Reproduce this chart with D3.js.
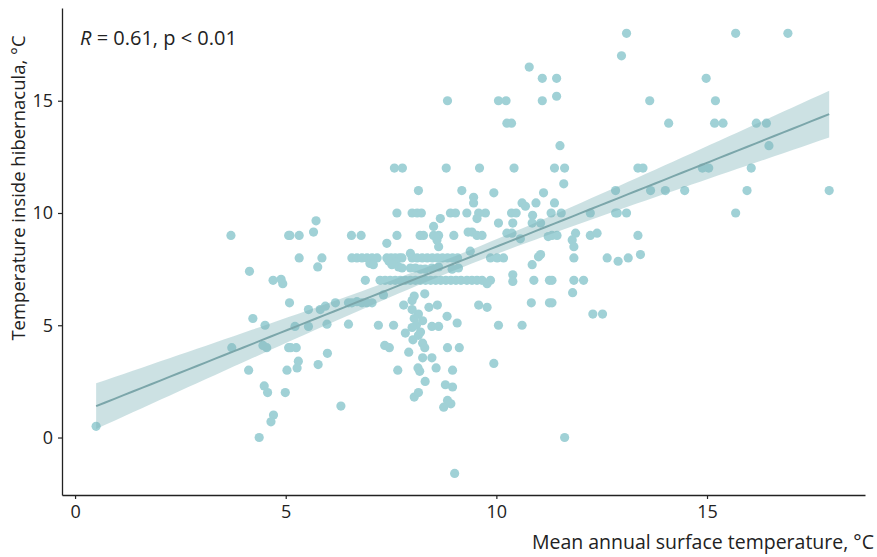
<!DOCTYPE html>
<html>
<head>
<meta charset="utf-8">
<script src="https://cdn.jsdelivr.net/npm/d3@7"></script>
<style>
  body { margin: 0; background: #fff; }
  svg text { font-family: "Open Sans", sans-serif; fill: #222; }
</style>
</head>
<body>
<div id="chart"></div>
<script>
// Tick values
var xTicks = [0, 5, 10, 15];
var yTicks = [0, 5, 10, 15];
var xTitle = "Mean annual surface temperature, \u00B0C";
var yTitle = "Temperature inside hibernacula, \u00B0C";

// [mean annual surface temperature, temperature inside hibernaculum]
var sites = [
  [0.5,0.5],
  [3.72,4.0],[4.46,4.1],[4.55,4.0],[5.07,4.0],[4.12,3.0],[5.03,3.0],
  [4.49,2.3],[4.57,2.0],[4.99,2.0],[4.71,1.0],[4.65,0.7],[4.37,0],
  [3.70,9.0],[5.07,9.0],[4.14,7.4],[4.70,7.0],[4.89,7.05],[4.93,6.85],
  [5.09,6.0],[4.22,5.3],[4.51,5.0],
  [5.12,4.0],[5.25,4.0],[5.99,3.75],[5.3,3.4],[5.27,3.1],[5.77,3.25],[6.31,1.4],
  [7.35,4.1],[7.46,4.0],[8.02,4.35],[8.25,4.2],[8.3,4.0],[8.84,4.0],[9.12,4.0],
  [7.92,3.8],[8.25,3.55],[8.47,3.55],[7.66,3.0],[8.14,3.1],[8.18,2.95],[8.57,3.1],
  [8.96,3.0],[8.31,2.5],[8.79,2.35],[8.96,2.25],[8.05,1.8],[8.15,2.0],
  [8.84,1.65],[8.75,1.35],[8.92,1.5],[9.01,-1.6],
  [9.94,3.3],[11.62,0],
  [8.84,15],[7.58,12],[7.77,12],[8.81,12],[9.6,12],
  [13.09,18],[12.97,17],[10.78,16.5],[11.09,16],[11.43,16],[10.05,15],[10.23,15],
  [11.09,15],[11.43,15.2],[13.64,15],[10.25,14],[10.36,14],[14.09,14],[11.51,13],
  [10.42,12],[11.38,12],[11.62,12],[13.36,12],[13.48,12],
  [15.68,18],[16.92,18],[14.98,16],[15.2,15],[15.18,14],[15.38,14],[16.17,14],
  [16.41,14],[16.47,13],[14.89,12],[15.04,12],[16.05,12],
  [15.95,11],[17.9,11],[15.68,10],
  [11.6,11.3],[9.94,10.9],[11.12,10.9],[12.83,11],[13.66,11],[14.01,11],[14.47,11],
  [10.61,10.45],[10.69,10.3],[10.94,10.45],[11.38,10.45],
  [9.74,10],[10.36,10],[10.47,10],[10.86,9.9],[11.3,10],[11.54,10],[12.23,10],
  [12.83,10],[12.87,10],[13.09,10],
  [10.05,9.55],[10.39,9.55],[10.85,9.55],[11.05,9.55],
  [10.25,9.1],[10.37,9.1],[10.57,8.85],[11.23,8.95],[11.32,9.0],[11.44,9.0],
  [11.88,9.1],[11.8,8.8],[11.84,8.5],[12.23,9.0],[12.39,9.1],[13.36,9.0],
  [9.86,8.0],[10.02,8.0],[10.17,8.0],[11.0,8.05],[11.05,8.15],[10.85,7.7],
  [11.84,8.0],[12.63,8.0],[12.89,7.85],[13.13,8.0],[13.42,8.15],
  [9.86,7.0],[9.78,6.85],[10.39,7.25],[10.39,6.95],[10.89,7.0],[11.26,7.0],
  [11.32,7.0],[11.84,7.0],[12.07,7.0],[11.81,6.45],
  [9.78,5.8],[10.83,6.0],[11.26,6.0],[11.32,6.0],[12.29,5.5],[12.52,5.5],
  [10.05,5.0],[10.61,5.0],
  [8.15,11],[9.18,11],[9.46,10.7],[9.46,10.45],
  [7.64,10],[8.0,10],[8.12,10],[8.22,10],[8.67,9.75],[8.91,10],[9.03,10],
  [9.3,10],[9.58,10],[9.54,9.75],
  [5.72,9.65],[5.66,9.15],[5.1,9.0],[5.32,9.0],[6.56,9.0],[6.79,9.0],[7.64,9.0],
  [8.19,9.0],[8.27,9.0],[8.51,9.4],[8.51,9.0],[8.63,9.0],[8.99,9.0],[9.33,9.15],
  [9.42,9.15],[9.54,9.0],[9.66,9.0],
  [8.59,8.8],[8.63,8.5],[7.4,8.65],[7.96,8.2],[9.38,8.3],
  [5.32,8.0],[5.86,8.0],[5.76,7.6],
  [6.57,8],[6.69,8],[6.81,8],[6.93,8],[7.05,8],[7.17,8],[7.4,8],[7.5,8],[7.6,8],
  [7.7,8],[7.76,8],[7.45,7.85],[7.6,7.8],[8.0,8],[8.12,8],[8.24,8],[8.36,8],
  [8.48,8],[8.6,8],[8.72,8],[8.84,8],[8.96,8],[9.08,8],
  [7.0,7.75],[7.08,7.7],[7.52,7.7],[7.68,7.6],[7.76,7.55],[7.96,7.55],[8.08,7.55],
  [8.2,7.5],[8.31,7.5],[8.47,7.55],[8.63,7.6],[8.95,7.5],[9.1,7.55],
  [6.89,7.0],
  [7.24,7],[7.36,7],[7.48,7],[7.6,7],[7.72,7],[7.84,7],[7.96,7],[8.08,7],[8.2,7],
  [8.32,7],[8.44,7],[8.56,7],[8.68,7],[8.8,7],[8.92,7],[9.04,7],[9.16,7],[9.3,7],
  [9.42,7],[9.54,7],[9.66,7],
  [7.32,6.35],[6.69,6.05],[6.81,6.0],[6.93,6.0],[7.05,6.0],[6.18,6.0],[6.49,6.0],
  [6.57,6.0],[5.94,5.85],[5.82,5.7],[5.54,5.7],[5.22,4.95],[5.54,4.95],[5.98,5.05],
  [6.49,5.05],[7.2,5.0],[7.56,5.0],
  [7.8,5.9],[8.05,6.3],[8.15,5.5],[8.3,6.4],[8.4,5.8],[8.6,5.9],[8.0,6.1],[8.0,5.7],
  [8.05,5.3],[8.1,5.0],[8.2,4.7],[8.25,5.2],[8.0,4.9],[8.83,5.4],[9.07,5.1],
  [9.58,5.9],[8.47,4.95],[8.63,4.95],[7.84,4.65],[8.15,4.55]
];

var width = 877, height = 557;
var margin = {top: 8, right: 12, bottom: 62, left: 62};

var svg = d3.select("#chart").append("svg")
    .attr("width", width)
    .attr("height", height);

var x = d3.scaleLinear().domain([-0.31, 18.75]).range([margin.left, width - margin.right]);
var y = d3.scaleLinear().domain([-2.56, 19.13]).range([height - margin.bottom, margin.top]);

// points
svg.append("g").selectAll("circle")
    .data(sites)
  .enter().append("circle")
    .attr("cx", function(d) { return x(d[0]); })
    .attr("cy", function(d) { return y(d[1]); })
    .attr("r", 4.6)
    .attr("fill", "#a0d1d6");

// linear fit with 95% confidence band (like geom_smooth(method = "lm"))
var n = sites.length;
var mx = d3.mean(sites, function(d) { return d[0]; });
var my = d3.mean(sites, function(d) { return d[1]; });
var sxx = d3.sum(sites, function(d) { return (d[0] - mx) * (d[0] - mx); });
var sxy = d3.sum(sites, function(d) { return (d[0] - mx) * (d[1] - my); });
var slope = sxy / sxx, icpt = my - slope * mx;
var s2 = d3.sum(sites, function(d) { var r = d[1] - icpt - slope * d[0]; return r * r; }) / (n - 2);
var tq = 1.968;
var xe = d3.extent(sites, function(d) { return d[0]; });
var grid = d3.range(0, 81).map(function(i) {
  var xv = xe[0] + (xe[1] - xe[0]) * i / 80;
  var fit = icpt + slope * xv;
  var se = Math.sqrt(s2 * (1 / n + (xv - mx) * (xv - mx) / sxx));
  return {x: xv, fit: fit, lo: fit - tq * se, hi: fit + tq * se};
});

svg.append("path")
    .datum(grid)
    .attr("fill", "#7fb3b8")
    .attr("fill-opacity", 0.4)
    .attr("d", d3.area()
        .x(function(d) { return x(d.x); })
        .y0(function(d) { return y(d.lo); })
        .y1(function(d) { return y(d.hi); }));

svg.append("path")
    .datum(grid)
    .attr("fill", "none")
    .attr("stroke", "#7ba6aa")
    .attr("stroke-width", 2)
    .attr("d", d3.line()
        .x(function(d) { return x(d.x); })
        .y(function(d) { return y(d.fit); }));

// axes
var xAxis = svg.append("g")
    .attr("transform", "translate(0," + (height - margin.bottom) + ")")
    .call(d3.axisBottom(x).tickValues(xTicks).tickSize(4).tickSizeOuter(0).tickPadding(6));
var yAxis = svg.append("g")
    .attr("transform", "translate(" + margin.left + ",0)")
    .call(d3.axisLeft(y).tickValues(yTicks).tickSize(4).tickSizeOuter(0).tickPadding(5));

[xAxis, yAxis].forEach(function(g) {
  g.select(".domain").attr("stroke", "#222").attr("stroke-width", 1.3);
  g.selectAll(".tick line").attr("stroke", "#222").attr("stroke-width", 1.2);
  g.selectAll(".tick text").style("font-family", "'Open Sans', sans-serif")
      .style("font-size", "18px").attr("fill", "#333");
});

// titles
svg.append("text")
    .attr("x", 874)
    .attr("y", 549)
    .attr("text-anchor", "end")
    .style("font-size", "19.5px")
    .text(xTitle);

svg.append("text")
    .attr("transform", "translate(25,188) rotate(-90)")
    .attr("text-anchor", "middle")
    .style("font-size", "18.5px")
    .text(yTitle);

// correlation label
var lab = svg.append("text")
    .attr("x", 80)
    .attr("y", 45)
    .style("font-size", "20px");
lab.append("tspan").style("font-style", "italic").text("R");
lab.append("tspan").text(" = 0.61, p < 0.01");
</script>
</body>
</html>
